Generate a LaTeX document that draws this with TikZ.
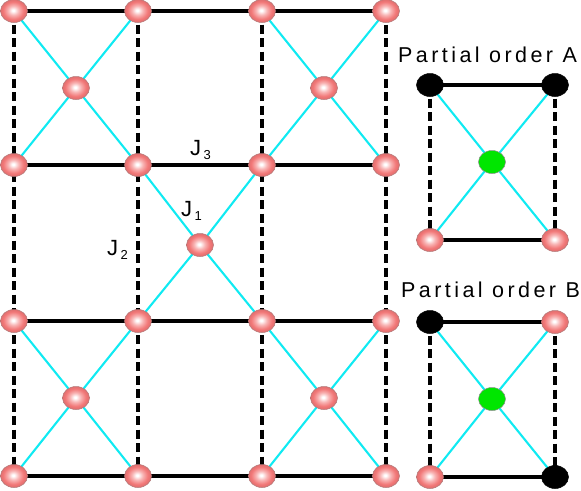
\documentclass[tikz,border=0pt]{standalone}
\usepackage{fontspec}
\setmainfont{Liberation Sans}
\newfontfamily\spacedfont[LetterSpace=16]{Liberation Sans}
\usepackage{tikz}
\usetikzlibrary{shapes.geometric,backgrounds}
\definecolor{clrBall}{HTML}{F27878}
\definecolor{clrRim}{HTML}{B07878}
\definecolor{clrBond}{HTML}{10EAF2}
\definecolor{clrGreen}{HTML}{00E600}
\pgfdeclareradialshading{pinkball}{\pgfpoint{-1.5bp}{1.5bp}}{%
  color(0bp)=(white); color(2bp)=(white); color(10bp)=(clrBall!55!white);
  color(19bp)=(clrBall); color(25bp)=(clrBall!92!black); color(50bp)=(clrBall!92!black)}
\newcommand\Jlab[1]{J\kern2.5pt\raisebox{-4pt}{\fontsize{13}{13}\selectfont #1}}
\tikzset{
  ball/.style={ellipse, inner sep=0pt, minimum width=27pt, minimum height=23pt,
    line width=0.5pt},
  site/.style={ball, draw=clrRim, shading=pinkball},
  upsite/.style={ball, draw=black, fill=black},
  midsite/.style={ball, draw=black!45, fill=clrGreen},
  hbond/.style={line width=4.6pt},
  vbond/.style={line width=4.6pt, dash pattern=on 9pt off 4.5pt},
  xbond/.style={clrBond, line width=2.1pt},
  jlab/.style={font=\fontsize{22}{22}\selectfont, anchor=base west, inner sep=0pt},
  hdr/.style={font=\spacedfont\fontsize{21.5}{21.5}\selectfont, anchor=base west,
    inner sep=0pt},
}

\begin{document}
\begin{tikzpicture}[x=1pt, y=-1pt]
\useasboundingbox (0,0) rectangle (581,490);

\def\xa{14}
\def\xb{138}
\def\xc{262}
\def\xd{386}
\def\ya{11}
\def\yb{165}
\def\yc{321}
\def\yd{476}

% ── lattice sites, row by row ──────────────────────────────────────────────
\node[site] (s11) at (\xa,\ya) {};
\node[site] (s12) at (\xb,\ya) {};
\node[site] (s13) at (\xc,\ya) {};
\node[site] (s14) at (\xd,\ya) {};

\node[site] (s21) at (\xa,\yb) {};
\node[site] (s22) at (\xb,\yb) {};
\node[site] (s23) at (\xc,\yb) {};
\node[site] (s24) at (\xd,\yb) {};

\node[site] (s31) at (\xa,\yc) {};
\node[site] (s32) at (\xb,\yc) {};
\node[site] (s33) at (\xc,\yc) {};
\node[site] (s34) at (\xd,\yc) {};

\node[site] (s41) at (\xa,\yd) {};
\node[site] (s42) at (\xb,\yd) {};
\node[site] (s43) at (\xc,\yd) {};
\node[site] (s44) at (\xd,\yd) {};

% ── crossed plaquettes (checkerboard) ──────────────────────────────────────
\node[site] (p1) at (76,88) {};
\node[site] (p2) at (324,88) {};
\node[site] (p3) at (200,245) {};
\node[site] (p4) at (76,398) {};
\node[site] (p5) at (324,398) {};

\begin{scope}[on background layer]
  % J3: horizontal bonds
  \draw[hbond] (s11.center) -- (s12.center) -- (s13.center) -- (s14.center);
  \draw[hbond] (s21.center) -- (s22.center) -- (s23.center) -- (s24.center);
  \draw[hbond] (s31.center) -- (s32.center) -- (s33.center) -- (s34.center);
  \draw[hbond] (s41.center) -- (s42.center) -- (s43.center) -- (s44.center);
  % J2: vertical bonds
  \draw[vbond] (s11.center) -- (s21.center) -- (s31.center) -- (s41.center);
  \draw[vbond] (s12.center) -- (s22.center) -- (s32.center) -- (s42.center);
  \draw[vbond] (s13.center) -- (s23.center) -- (s33.center) -- (s43.center);
  \draw[vbond] (s14.center) -- (s24.center) -- (s34.center) -- (s44.center);
  % J1: diagonals
  \draw[xbond] (s11.center) -- (p1.center) -- (s22.center);
  \draw[xbond] (s12.center) -- (p1.center) -- (s21.center);
  \draw[xbond] (s13.center) -- (p2.center) -- (s24.center);
  \draw[xbond] (s14.center) -- (p2.center) -- (s23.center);
  \draw[xbond] (s22.center) -- (p3.center) -- (s33.center);
  \draw[xbond] (s23.center) -- (p3.center) -- (s32.center);
  \draw[xbond] (s31.center) -- (p4.center) -- (s42.center);
  \draw[xbond] (s32.center) -- (p4.center) -- (s41.center);
  \draw[xbond] (s33.center) -- (p5.center) -- (s44.center);
  \draw[xbond] (s34.center) -- (p5.center) -- (s43.center);
\end{scope}

% ── coupling labels ────────────────────────────────────────────────────────
\node[jlab] (j3) at (190,155) {\Jlab{3}};
\node[jlab] (j1) at (181,216) {\Jlab{1}};
\node[jlab] (j2) at (107,255) {\Jlab{2}};

% ── partial order A ────────────────────────────────────────────────────────
\node[hdr] (ha) at (398,62) {Partial order A};
\node[upsite] (a1) at (430,85) {};
\node[upsite] (a2) at (555,85) {};
\node[site] (a3) at (430,240) {};
\node[site] (a4) at (555,240) {};
\node[midsite] (ac) at (492,162) {};
\begin{scope}[on background layer]
  \draw[hbond] (a1.center) -- (a2.center);
  \draw[hbond] (a3.center) -- (a4.center);
  \draw[vbond] (a1.center) -- (a3.center);
  \draw[vbond] (a2.center) -- (a4.center);
  \draw[xbond] (a1.center) -- (ac.center) -- (a4.center);
  \draw[xbond] (a2.center) -- (ac.center) -- (a3.center);
\end{scope}

% ── partial order B ────────────────────────────────────────────────────────
\node[hdr] (hb) at (401,297) {Partial order B};
\node[upsite] (b1) at (430,322) {};
\node[site] (b2) at (555,322) {};
\node[site] (b3) at (430,477) {};
\node[upsite] (b4) at (555,477) {};
\node[midsite] (bc) at (492,399) {};
\begin{scope}[on background layer]
  \draw[hbond] (b1.center) -- (b2.center);
  \draw[hbond] (b3.center) -- (b4.center);
  \draw[vbond] (b1.center) -- (b3.center);
  \draw[vbond] (b2.center) -- (b4.center);
  \draw[xbond] (b1.center) -- (bc.center) -- (b4.center);
  \draw[xbond] (b2.center) -- (bc.center) -- (b3.center);
\end{scope}

\end{tikzpicture}
\end{document}
